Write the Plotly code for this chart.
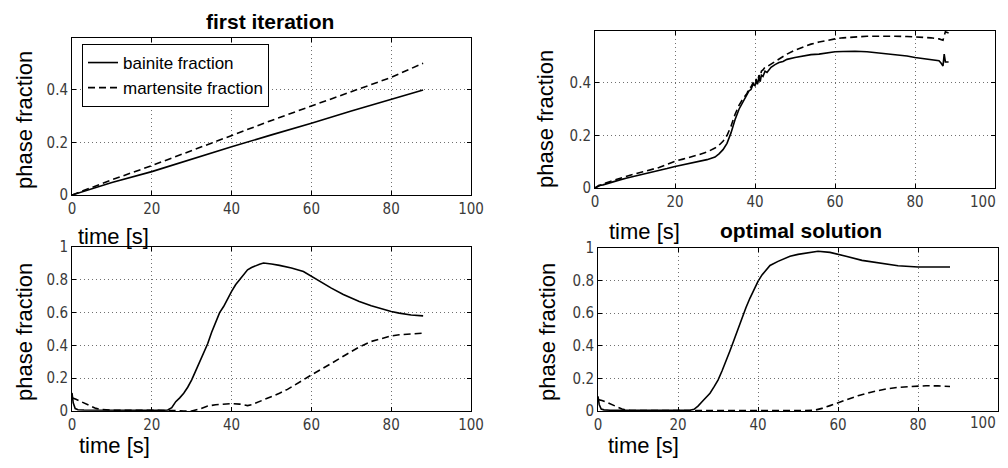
import plotly.graph_objects as go

# ---------------- data ----------------
# top-left panel: first iteration
t_tl = [0, 5, 10, 20, 30, 40, 50, 60, 70, 80, 88]
bain_tl = [0, 0.025, 0.048, 0.089, 0.137, 0.184, 0.229, 0.273, 0.32, 0.366, 0.40]
mart_tl = [0, 0.03, 0.058, 0.112, 0.17, 0.229, 0.284, 0.339, 0.393, 0.448, 0.502]

# top-right panel
t_tr = [0, 1, 2, 4, 6, 8, 10, 12, 14, 16, 18, 20, 22, 24, 26, 28, 30, 31, 32, 33, 34, 35,
        36, 37, 38, 38.5, 39, 39.5, 40, 40.3, 40.6, 41, 41.3, 41.6, 42, 42.5, 43, 44, 45,
        46, 47, 48, 50, 52, 54, 56, 58, 60, 62, 65, 68, 70, 72, 75, 78, 80, 82, 84, 86, 86.5, 87,
        87.3, 87.6, 88.4]
bain_tr = [0.0, 0.01, 0.012, 0.022, 0.03, 0.038, 0.045, 0.052, 0.058, 0.066, 0.074, 0.082, 0.088, 0.095,
           0.101, 0.108, 0.118, 0.13, 0.146, 0.17, 0.21, 0.26,
           0.30, 0.33, 0.355, 0.37, 0.375, 0.395, 0.39, 0.41, 0.395, 0.42, 0.405, 0.43, 0.425, 0.445, 0.44,
           0.46, 0.47,
           0.478, 0.482, 0.49, 0.497, 0.502, 0.508, 0.51, 0.515, 0.519, 0.52, 0.521, 0.519, 0.516, 0.513,
           0.509, 0.503, 0.497, 0.493, 0.489, 0.485, 0.476, 0.465, 0.51, 0.48, 0.48]
mart_tr = [0.0, 0.008, 0.015, 0.026, 0.036, 0.045, 0.054, 0.062, 0.07, 0.078, 0.09, 0.102, 0.11, 0.118,
           0.127, 0.137, 0.152, 0.163, 0.178, 0.2, 0.235, 0.28,
           0.315, 0.34, 0.36, 0.38, 0.385, 0.40, 0.395, 0.415, 0.40, 0.43, 0.42, 0.445, 0.45, 0.46, 0.462,
           0.472, 0.482,
           0.49, 0.5, 0.51, 0.525, 0.538, 0.548, 0.556, 0.563, 0.568, 0.572, 0.576, 0.578, 0.578, 0.579,
           0.578, 0.577, 0.576, 0.574, 0.572, 0.568, 0.565, 0.563, 0.58, 0.595, 0.59]

# bottom-left panel
t_bl_b = [0, 0.3, 0.8, 1.5, 3, 6, 10, 15, 20, 23, 24, 25, 26, 27, 28, 29, 30, 31, 32, 33, 34, 35, 36, 37,
          38, 39, 40, 41, 42, 43, 44, 45, 46, 47, 48, 49, 50, 52, 55, 58, 60, 62, 65, 68, 70, 72, 75, 78,
          80, 82, 85, 88]
bain_bl = [0.11, 0.05, 0.015, 0.008, 0.006, 0.005, 0.005, 0.005, 0.005, 0.005, 0.006, 0.02, 0.057, 0.08,
           0.108, 0.145, 0.19, 0.245, 0.30, 0.355, 0.41, 0.48, 0.546, 0.60, 0.637, 0.685, 0.729, 0.77, 0.80,
           0.835, 0.861, 0.875, 0.886, 0.895, 0.902, 0.9, 0.896, 0.888, 0.872, 0.85, 0.82, 0.795, 0.749, 0.71,
           0.688, 0.668, 0.642, 0.62, 0.607, 0.597, 0.585, 0.58]
t_bl_m = [0, 0.5, 1, 2, 3, 4, 5, 6, 7, 8, 10, 15, 20, 24, 26, 28, 30, 32, 34, 36, 38, 40, 42, 43, 44, 45,
          46, 48, 50, 52, 54, 56, 58, 60, 62, 65, 68, 70, 72, 75, 78, 80, 82, 85, 88]
mart_bl = [0.08, 0.078, 0.072, 0.06, 0.048, 0.036, 0.025, 0.016, 0.01, 0.007, 0.005, 0.005, 0.005, 0.005,
           0.003, 0.0, 0.0, 0.012, 0.03, 0.038, 0.042, 0.045, 0.042, 0.036, 0.033, 0.038, 0.048, 0.067, 0.088,
           0.108, 0.132, 0.159, 0.19, 0.22, 0.25, 0.29, 0.334, 0.362, 0.39, 0.424, 0.445, 0.458, 0.465, 0.47,
           0.475]

# bottom-right panel: optimal solution
t_br_b = [0, 0.3, 0.8, 1.5, 3, 6, 10, 15, 20, 23, 24, 25, 26, 27, 28, 29, 30, 31, 32, 33, 34, 35, 36, 37,
          38, 39, 40, 41, 42, 43, 45, 48, 50, 52, 55, 58, 60, 62, 66, 70, 75, 80, 85, 88]
bain_br = [0.09, 0.04, 0.012, 0.007, 0.005, 0.005, 0.005, 0.005, 0.005, 0.005, 0.01, 0.03, 0.057, 0.082,
           0.109, 0.148, 0.19, 0.245, 0.303, 0.37, 0.436, 0.505, 0.57, 0.635, 0.693, 0.745, 0.795, 0.835,
           0.867, 0.893, 0.918, 0.949, 0.961, 0.969, 0.98, 0.973, 0.962, 0.949, 0.924, 0.908, 0.891, 0.883,
           0.882, 0.883]
t_br_m = [0, 0.5, 1, 2, 3, 4, 5, 6, 7, 8, 10, 20, 30, 40, 50, 54, 56, 58, 60, 62, 65, 68, 70, 72, 75, 78,
          80, 82, 85, 88]
mart_br = [0.07, 0.068, 0.064, 0.055, 0.044, 0.032, 0.02, 0.012, 0.007, 0.004, 0.003, 0.002, 0.002, 0.002,
           0.002, 0.004, 0.016, 0.033, 0.051, 0.067, 0.094, 0.114, 0.125, 0.135, 0.145, 0.151, 0.154, 0.155,
           0.154, 0.15]

x_ticks = [0, 20, 40, 60, 80, 100]
y_ticks_top = [0, 0.2, 0.4]
y_ticks_bot = [0, 0.2, 0.4, 0.6, 0.8, 1]

legend_names = ["bainite fraction", "martensite fraction"]
titles = ["first iteration", "optimal solution"]
x_label = "time [s]"
y_label = "phase fraction"

# ---------------- figure ----------------
# the page body has an 8px default margin; keep the figure inside the window
OFF = 8
W, H = 992, 452
TICKFONT = dict(family="Liberation Sans Narrow, DejaVu Sans Condensed, Arial Narrow, sans-serif",
                size=15, color="#3a3a3a")
LABELFONT = dict(family="Liberation Sans, Arial, sans-serif", size=22, color="black")
TITLEFONT = dict(family="Liberation Sans, Arial, sans-serif", size=21, color="black")

SOLID = dict(color="black", width=1.6)
DASHED = dict(color="black", width=1.6, dash="7px,4px")

fig = go.Figure()

panels = [
    ("x", "y", [(t_tl, bain_tl, SOLID, legend_names[0], True),
                (t_tl, mart_tl, DASHED, legend_names[1], True)]),
    ("x2", "y2", [(t_tr, bain_tr, SOLID, legend_names[0], False),
                  (t_tr, mart_tr, DASHED, legend_names[1], False)]),
    ("x3", "y3", [(t_bl_b, bain_bl, SOLID, legend_names[0], False),
                  (t_bl_m, mart_bl, DASHED, legend_names[1], False)]),
    ("x4", "y4", [(t_br_b, bain_br, SOLID, legend_names[0], False),
                  (t_br_m, mart_br, DASHED, legend_names[1], False)]),
]
for xa, ya, series in panels:
    for i, (t, y, line, name, show) in enumerate(series):
        fig.add_trace(go.Scatter(x=t, y=y, mode="lines", line=line, name=name,
                                 showlegend=show, xaxis=xa, yaxis=ya))


def fx(p):
    return (p - OFF) / W


def fy(p):
    return 1 - (p - OFF) / H


def px_x(a, b):
    return [fx(a), fx(b)]


def px_y(top, bottom):
    return [fy(bottom), fy(top)]


GRID = dict(showgrid=True, gridcolor="#707070", griddash="1px,3px", gridwidth=1)


def xaxis(domain, anchor, last_label=True):
    text = [("%g" % v) for v in x_ticks]
    if not last_label:
        text[-1] = ""  # drawn as an annotation so it is not cut at the page edge
    return dict(domain=domain, anchor=anchor, range=[0, 100], tickvals=x_ticks, ticktext=text,
                ticks="inside", ticklen=4, tickcolor="black", showline=True, linecolor="black",
                linewidth=1, mirror="ticks", zeroline=False, tickfont=TICKFONT, fixedrange=True,
                **GRID)


def yaxis(domain, anchor, rng, ticks):
    return dict(domain=domain, anchor=anchor, range=rng, tickvals=ticks,
                ticktext=[("%g" % v) for v in ticks],
                ticks="inside", ticklen=4, tickcolor="black", showline=True, linecolor="black",
                linewidth=1, mirror="ticks", zeroline=False, tickfont=TICKFONT, fixedrange=True,
                **GRID)


layout = dict(
    width=W, height=H, margin=dict(l=0, r=0, t=0, b=0, autoexpand=False),
    paper_bgcolor="white", plot_bgcolor="white",
    xaxis=xaxis(px_x(72, 471), "y"),
    yaxis=yaxis(px_y(38, 195), "x", [0, 0.598], y_ticks_top),
    xaxis2=xaxis(px_x(595, 995), "y2", last_label=False),
    yaxis2=yaxis(px_y(31, 188), "x2", [0, 0.598], y_ticks_top),
    xaxis3=xaxis(px_x(72, 471), "y3"),
    yaxis3=yaxis(px_y(247, 411), "x3", [0, 1], y_ticks_bot),
    xaxis4=xaxis(px_x(598, 998), "y4", last_label=False),
    yaxis4=yaxis(px_y(248, 411), "x4", [0, 1], y_ticks_bot),
    legend=dict(x=fx(82), y=fy(44), xanchor="left", yanchor="top",
                bgcolor="white", bordercolor="black", borderwidth=1,
                font=dict(family="Liberation Sans, Arial, sans-serif", size=17, color="black"),
                tracegroupgap=0),
    showlegend=True,
)
fig.update_layout(**layout)

annots = []
annots.append(dict(text="<b>%s</b>" % titles[0], x=fx(270), y=fy(8), font=TITLEFONT, yanchor="top"))
annots.append(dict(text="<b>%s</b>" % titles[1], x=fx(801), y=fy(230), font=TITLEFONT))
for cx, cy in [(113, 236), (644, 231)]:
    annots.append(dict(text=x_label, x=fx(cx), y=fy(cy), font=LABELFONT))
for cx in [114, 643]:
    annots.append(dict(text=x_label, x=fx(cx), y=fy(460), font=LABELFONT, yanchor="bottom"))
for cx, cy in [(25, 120), (545, 119), (24, 332), (547, 332)]:
    annots.append(dict(text=y_label, x=fx(cx), y=fy(cy), font=LABELFONT, textangle=-90))
# right-hand "100" tick labels of the right panels, kept inside the page
for cy in [202, 423]:
    annots.append(dict(text=str(x_ticks[-1]), x=fx(998), y=fy(cy),
                       font=dict(family=TICKFONT["family"], size=15, color="#3a3a3a"),
                       xanchor="right"))
for a in annots:
    a.setdefault("xanchor", "center")
    a.setdefault("yanchor", "middle")
    a.update(xref="paper", yref="paper", showarrow=False)
fig.update_layout(annotations=annots)

fig.write_html("out.html")
